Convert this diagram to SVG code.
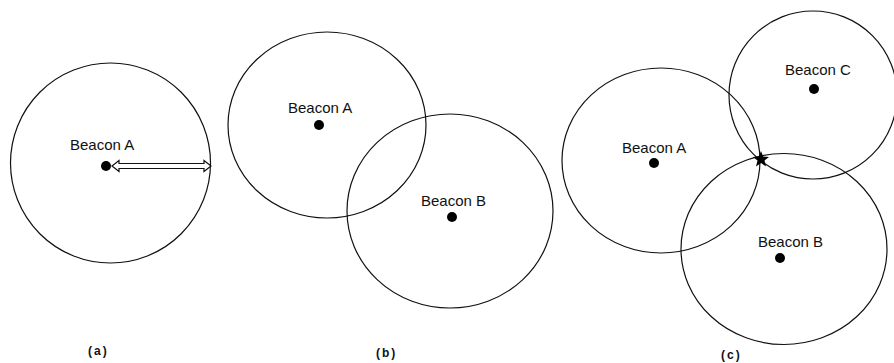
<svg xmlns="http://www.w3.org/2000/svg" width="894" height="363" viewBox="0 0 894 363">
<style>
.ring{fill:none;stroke:#111;stroke-width:1.2}
.dot{fill:#000}
.lbl{font-family:"Liberation Sans",Arial,sans-serif;font-size:15px;fill:#111}
.cap{font-family:"Liberation Sans",Arial,sans-serif;font-size:12px;font-weight:bold;fill:#111;letter-spacing:2px}
</style>
<rect width="894" height="363" fill="#fff"/>
<g id="panel-a">
  <g id="a-beaconA">
    <circle class="ring" cx="110.5" cy="163" r="100"/>
    <circle class="dot" cx="106" cy="166" r="5"/>
    <text class="lbl" x="70" y="150">Beacon A</text>
  </g>
  <g id="a-range">
    <polygon points="112,166 119,160.5 119,163.5 204,163.5 204,160.5 211,166 204,171.5 204,168.5 119,168.5 119,171.5" fill="#fff" stroke="#111" stroke-width="1.2" stroke-linejoin="miter"/>
  </g>
  <text class="cap" x="88" y="355">(a)</text>
</g>
<g id="panel-b">
  <g id="b-beaconA">
    <ellipse class="ring" cx="327" cy="125" rx="99" ry="93"/>
    <circle class="dot" cx="319" cy="125" r="5"/>
    <text class="lbl" x="288" y="113">Beacon A</text>
  </g>
  <g id="b-beaconB">
    <ellipse class="ring" cx="450" cy="211" rx="103" ry="97"/>
    <circle class="dot" cx="452" cy="217" r="5"/>
    <text class="lbl" x="421" y="206">Beacon B</text>
  </g>
  <text class="cap" x="376" y="357">(b)</text>
</g>
<g id="panel-c">
  <g id="c-beaconA">
    <ellipse class="ring" cx="661" cy="160.5" rx="99" ry="92.5"/>
    <circle class="dot" cx="654" cy="163" r="5"/>
    <text class="lbl" x="622" y="153">Beacon A</text>
  </g>
  <g id="c-beaconC">
    <ellipse class="ring" cx="813" cy="95" rx="84" ry="84"/>
    <circle class="dot" cx="814" cy="89" r="5"/>
    <text class="lbl" x="785" y="75">Beacon C</text>
  </g>
  <g id="c-beaconB">
    <ellipse class="ring" cx="784" cy="249" rx="103" ry="95.5"/>
    <circle class="dot" cx="780" cy="258" r="5"/>
    <text class="lbl" x="758" y="247">Beacon B</text>
  </g>
  <g id="c-position">
    <polygon points="761,151 763.2,156.5 769,157 764.5,160.5 766,166.5 761,163 756,166.5 757.5,160.5 753,157 758.8,156.5" fill="#000"/>
  </g>
  <text class="cap" x="721" y="359">(c)</text>
</g>
</svg>
